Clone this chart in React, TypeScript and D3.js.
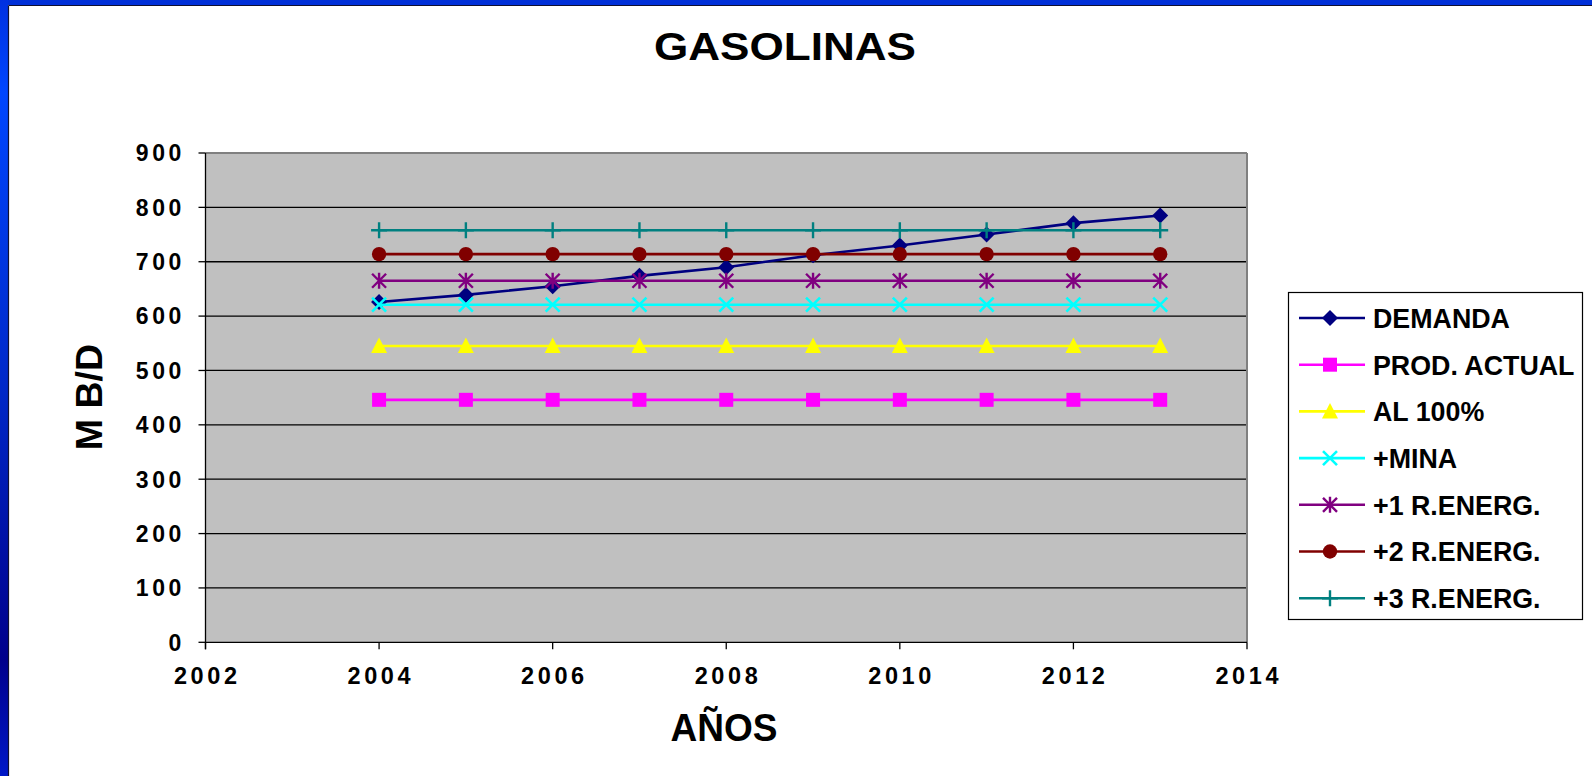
import React from "react";
import * as d3 from "d3";

const years = [2004, 2005, 2006, 2007, 2008, 2009, 2010, 2011, 2012, 2013];
const demanda = [626, 639, 655, 674, 690, 712, 730, 750, 771, 785];
const prodActual = [446, 446, 446, 446, 446, 446, 446, 446, 446, 446];
const al100 = [545, 545, 545, 545, 545, 545, 545, 545, 545, 545];
const mina = [621, 621, 621, 621, 621, 621, 621, 621, 621, 621];
const r1 = [665, 665, 665, 665, 665, 665, 665, 665, 665, 665];
const r2 = [714, 714, 714, 714, 714, 714, 714, 714, 714, 714];
const r3 = [758, 758, 758, 758, 758, 758, 758, 758, 758, 758];
const seriesNames = ["DEMANDA", "PROD. ACTUAL", "AL 100%", "+MINA", "+1 R.ENERG.", "+2 R.ENERG.", "+3 R.ENERG."];
const seriesColors = ["#000080", "#FF00FF", "#FFFF00", "#00FFFF", "#800080", "#800000", "#008080"];
const seriesMarkers = ["diamond", "square", "triangle", "x", "asterisk", "circle", "plus"];
const seriesValues = [demanda, prodActual, al100, mina, r1, r2, r3];
const yTicks = [0, 100, 200, 300, 400, 500, 600, 700, 800, 900];
const xTicks = [2002, 2004, 2006, 2008, 2010, 2012, 2014];

const FONT = "'Liberation Sans', Arial, sans-serif";

function Marker({ type, color, x, y }: { type: string; color: string; x: number; y: number }) {
  const t = `translate(${x},${y})`;
  switch (type) {
    case "diamond":
      return <path transform={t} d="M0,-8L8,0L0,8L-8,0Z" fill={color} />;
    case "square":
      return <rect transform={t} x={-7} y={-7} width={14} height={14} fill={color} />;
    case "triangle":
      return <path transform={t} d="M0,-8.5L8,7L-8,7Z" fill={color} />;
    case "circle":
      return <circle transform={t} r={7.2} fill={color} />;
    case "x":
      return <path transform={t} d="M-7,-7L7,7M7,-7L-7,7" stroke={color} strokeWidth={2.6} fill="none" />;
    case "asterisk":
      return <path transform={t} d="M-7,-7L7,7M7,-7L-7,7M0,-8L0,8" stroke={color} strokeWidth={2.4} fill="none" />;
    case "plus":
      return <path transform={t} d="M-8,0L8,0M0,-8L0,8" stroke={color} strokeWidth={2.4} fill="none" />;
    default:
      return null;
  }
}

export default function App() {
  const W = 1592, H = 776;
  const plot = { left: 205.5, right: 1247, top: 153, bottom: 642.3 };
  const x = d3.scaleLinear().domain([2002, 2014]).range([plot.left, plot.right]);
  const y = d3.scaleLinear().domain([0, 900]).range([plot.bottom, plot.top]);
  const line = d3.line<[number, number]>().x((d) => x(d[0])).y((d) => y(d[1]));

  const legend = { x: 1288, y: 292, w: 294, h: 327, row0: 318, step: 46.7 };

  return (
    <svg width={W} height={H} style={{ position: "absolute", left: 0, top: 0, display: "block" }}>
      <defs>
        <linearGradient id="leftBand" x1="0" y1="0" x2="0" y2="1">
          <stop offset="0" stopColor="#0030E0" />
          <stop offset="0.12" stopColor="#0046FF" />
          <stop offset="0.5" stopColor="#0028C8" />
          <stop offset="0.85" stopColor="#00008C" />
          <stop offset="1" stopColor="#0018C8" />
        </linearGradient>
      </defs>
      <rect x={0} y={0} width={W} height={H} fill="#FFFFFF" />
      {/* frame */}
      <rect x={0} y={0} width={W} height={5} fill="#0030D8" />
      <rect x={0} y={0} width={8} height={H} fill="url(#leftBand)" />
      <line x1={8.5} y1={5.5} x2={W} y2={5.5} stroke="#101030" strokeWidth={1.2} />
      <line x1={8.5} y1={5.5} x2={8.5} y2={H} stroke="#101030" strokeWidth={1.2} />

      {/* title */}
      <text x={785} y={60} textAnchor="middle" fontFamily={FONT} fontWeight="bold" fontSize={38}
        textLength={262} lengthAdjust="spacingAndGlyphs" fill="#000">GASOLINAS</text>

      {/* plot area */}
      <rect x={plot.left} y={plot.top} width={plot.right - plot.left} height={plot.bottom - plot.top} fill="#C0C0C0" />
      {yTicks.filter((v) => v > 0 && v < 900).map((v) => (
        <line key={"g" + v} x1={plot.left} x2={plot.right} y1={y(v)} y2={y(v)} stroke="#000" strokeWidth={1.3} />
      ))}
      <line x1={plot.left} x2={plot.right} y1={plot.top} y2={plot.top} stroke="#808080" strokeWidth={2} />
      <line x1={plot.right} x2={plot.right} y1={plot.top} y2={plot.bottom} stroke="#808080" strokeWidth={2} />
      <line x1={plot.left} x2={plot.left} y1={plot.top} y2={plot.bottom + 7} stroke="#000" strokeWidth={1.3} />
      <line x1={plot.left} x2={plot.right} y1={plot.bottom} y2={plot.bottom} stroke="#000" strokeWidth={1.3} />

      {/* y ticks */}
      {yTicks.map((v) => (
        <g key={"yt" + v}>
          <line x1={plot.left - 7} x2={plot.left} y1={y(v)} y2={y(v)} stroke="#000" strokeWidth={1.3} />
          <text x={185} y={y(v) + 8.3} textAnchor="end" fontFamily={FONT} fontWeight="bold" fontSize={23}
            letterSpacing={3.6} fill="#000">{v}</text>
        </g>
      ))}
      {/* x ticks */}
      {xTicks.map((v) => (
        <g key={"xt" + v}>
          <line x1={x(v)} x2={x(v)} y1={plot.bottom} y2={plot.bottom + 7} stroke="#000" strokeWidth={1.3} />
          <text x={x(v) + 1.8} y={684} textAnchor="middle" fontFamily={FONT} fontWeight="bold" fontSize={23.5}
            letterSpacing={3.6} fill="#000">{v}</text>
        </g>
      ))}

      {/* axis titles */}
      <text x={724} y={741} textAnchor="middle" fontFamily={FONT} fontWeight="bold" fontSize={38}
        textLength={107} lengthAdjust="spacingAndGlyphs" fill="#000">AÑOS</text>
      <text transform={`translate(102,397) rotate(-90)`} textAnchor="middle" fontFamily={FONT} fontWeight="bold"
        fontSize={37.5} fill="#000">M B/D</text>

      {/* series */}
      {seriesValues.map((vals, i) => {
        const pts: [number, number][] = years.map((yr, j) => [yr, vals[j]]);
        return (
          <g key={"s" + i}>
            <path d={line(pts) || ""} fill="none" stroke={seriesColors[i]} strokeWidth={2.6} />
            {pts.map((p, j) => (
              <Marker key={j} type={seriesMarkers[i]} color={seriesColors[i]} x={x(p[0])} y={y(p[1])} />
            ))}
          </g>
        );
      })}

      {/* legend */}
      <rect x={legend.x + 0.5} y={legend.y + 0.5} width={legend.w} height={legend.h} fill="#FFF" stroke="#000" strokeWidth={1.2} />
      {seriesNames.map((name, i) => {
        const cy = legend.row0 + i * legend.step;
        return (
          <g key={"l" + i}>
            <line x1={1299} x2={1365} y1={cy} y2={cy} stroke={seriesColors[i]} strokeWidth={2.6} />
            <Marker type={seriesMarkers[i]} color={seriesColors[i]} x={1330} y={cy} />
            <text x={1373} y={cy + 9.8} fontFamily={FONT} fontWeight="bold" fontSize={26.8} fill="#000">{name}</text>
          </g>
        );
      })}
    </svg>
  );
}
